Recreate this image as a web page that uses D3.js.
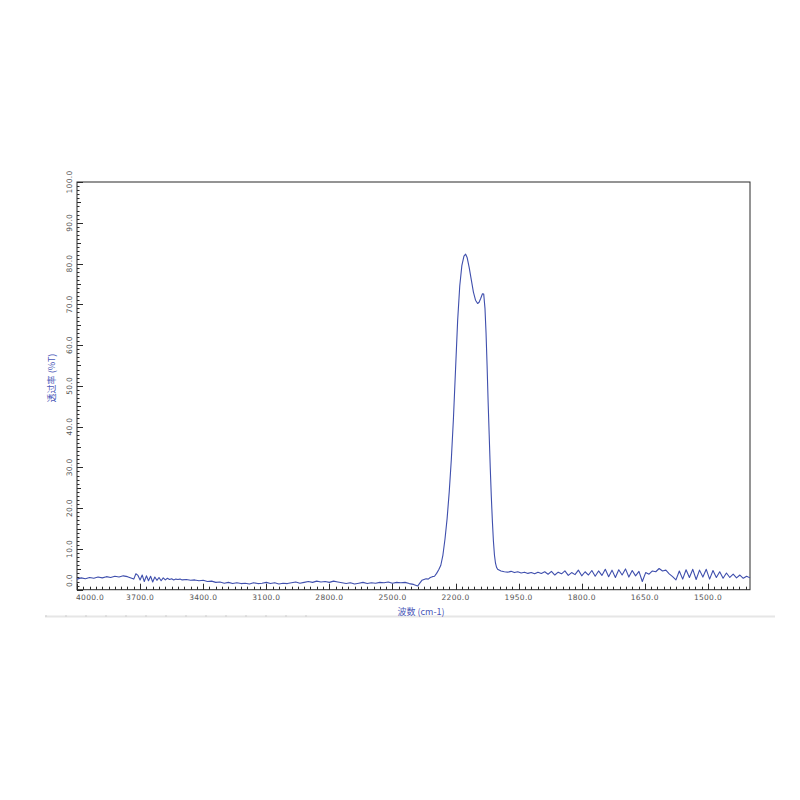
<!DOCTYPE html>
<html>
<head>
<meta charset="utf-8">
<script src="https://cdn.jsdelivr.net/npm/d3@7/dist/d3.min.js"></script>
<style>
  html, body { margin: 0; padding: 0; background: #ffffff; }
  svg { display: block; }
</style>
</head>
<body>
<svg id="chart" width="800" height="800"></svg>
<script>
// ---- Data (wavenumber in cm-1, transmittance in %T) ----
const wavenumbers = [
  4000,3980,3960,3940,3920,3900,3880,3860,3840,3820,3800,3780,3760,
  3740,3730,3720,3710,3700,3690,3680,3670,3660,3650,3640,3630,3620,3610,3600,3590,3580,3570,3560,3550,3540,3530,3520,3510,3500,
  3480,3460,3440,3420,3400,3380,3360,3340,3320,3300,3280,3260,3240,3220,3200,3180,3160,3140,3120,3100,3080,3060,3040,3020,3000,
  2980,2960,2940,2920,2900,2880,2860,2840,2820,2800,2780,2760,2740,2720,2700,2680,2660,2640,2620,2600,2580,2560,2540,2520,2500,2480,
  2460,2440,2420,2400,2380,2370,2360,2350,2340,2330,2320,2310,2300,2290,2280,2270,2260,2250,2240,2230,2220,2210,2200,2190,2180,2170,
  2160,2152,2145,2135,2125,2115,2105,2095,2088,2080,2072,2066,2060,2055,2050,2045,2040,2035,2030,2025,2020,2015,2010,2005,2000,
  1992,1984,1976,1968,1960,1952,1944,1936,1928,1920,1912,1904,1896,1888,1880,1872,1864,1856,1848,1840,1832,1824,1816,1808,1800,
  1792,1784,1776,1768,1760,1752,1744,1736,1728,1720,1712,1704,1696,1688,1680,1672,1664,1656,1648,1640,1632,1624,1616,1608,1600,
  1592,1584,1576,1568,1560,1552,1544,1536,1528,1520,1512,1504,1496,1488,1480,1472,1464,1456,1448,1440,1432,1424,1416,1408,1400
];
const transmittance = [
  2.6,2.9,2.7,3.0,2.8,3.1,2.9,3.2,3.0,3.3,3.1,3.4,3.2,
  2.8,2.6,3.9,3.5,2.4,3.6,2.0,3.4,2.2,3.3,1.9,3.1,2.3,3.0,2.2,2.9,2.4,2.8,2.5,2.7,2.4,2.6,2.5,2.6,2.4,
  2.5,2.3,2.4,2.2,2.3,2.0,2.1,1.8,1.9,1.6,1.8,1.5,1.7,1.5,1.6,1.4,1.7,1.5,1.6,1.8,1.5,1.7,1.4,1.6,1.5,
  1.7,1.9,1.6,1.8,2.0,1.8,2.1,1.9,2.0,1.8,2.1,1.9,1.7,1.5,1.7,1.4,1.6,1.8,1.5,1.7,1.6,1.8,1.7,1.9,1.6,1.8,
  1.7,1.8,1.5,1.3,0.9,1.6,2.3,2.5,2.7,2.6,3.0,3.2,3.3,4.0,4.9,6.0,8.5,12.5,17.5,24,32,42,54,66,74.5,79.5,
  81.8,82.3,81.5,79,76,73,71,70.2,70.5,71.5,72.6,72.5,69,63,55,46,38,30,23,17,12,8.5,6.5,5.5,5.0,
  4.6,4.4,4.3,4.5,4.2,4.4,4.1,4.3,4.0,4.2,3.9,4.3,4.0,4.4,3.8,4.5,3.6,4.3,3.9,4.6,3.5,4.2,3.7,4.8,3.4,
  4.4,3.6,4.7,3.3,4.6,3.5,5.0,3.2,4.8,3.0,4.9,3.6,5.1,3.1,4.7,3.4,4.5,2.0,4.2,3.8,4.6,4.4,5.2,4.6,4.8,
  3.9,3.2,2.4,4.6,2.6,4.9,3.0,5.0,2.5,4.8,3.1,5.0,2.6,4.7,3.0,4.4,2.8,4.1,3.0,3.8,2.9,3.6,2.8,3.3,2.9
];
const xTickValues = [4000, 3700, 3400, 3100, 2800, 2500, 2200, 1950, 1800, 1650, 1500];
const yTickValues = [0, 10, 20, 30, 40, 50, 60, 70, 80, 90, 100];
const xTitle = "波数 (cm-1)";
const yTitle = "透过率 (%T)";

// ---- Layout ----
const svg = d3.select("#chart");
const plotLeft = 77, plotRight = 750, plotTop = 182, plotBottom = 589.7;

// FTIR-style piecewise scale (scale change at 2000 cm-1)
const x = d3.scaleLinear().domain([4000, 2000, 1400]).range([plotLeft, 497.6, plotRight]);
const y = d3.scaleLinear().domain([0, 100]).range([plotBottom, plotTop]);

const axisColor = "#2a2a2a";
const labelColor = "#555";
const titleColor = "#4a57b8";

// light screenshot rule under chart
svg.append("line").attr("x1", 45).attr("x2", 775).attr("y1", 616.5).attr("y2", 616.5)
  .attr("stroke", "#e6e6e6").attr("stroke-width", 2);
svg.append("line").attr("x1", 45).attr("x2", 310).attr("y1", 616).attr("y2", 616)
  .attr("stroke", "#cfcfcf").attr("stroke-width", 1).attr("stroke-dasharray", "2,18");

// frame
svg.append("rect").attr("x", plotLeft).attr("y", plotTop)
  .attr("width", plotRight - plotLeft).attr("height", plotBottom - plotTop)
  .attr("fill", "none").attr("stroke", axisColor).attr("stroke-width", 1);

// y minor ticks (inward)
const yMinor = d3.range(0, 101, 1);
svg.append("g").selectAll("line").data(yMinor).join("line")
  .attr("x1", plotLeft).attr("x2", d => plotLeft + (d % 10 === 0 ? 6 : (d % 5 === 0 ? 4 : 2.5)))
  .attr("y1", d => Math.round(y(d)) + 0.5).attr("y2", d => Math.round(y(d)) + 0.5)
  .attr("stroke", axisColor).attr("stroke-width", 1);

// x minor ticks (inward)
const xMinor = d3.range(4000, 1999, -30).concat(d3.range(1995, 1399, -15));
svg.append("g").selectAll("line").data(xMinor).join("line")
  .attr("x1", d => Math.round(x(d)) + 0.5).attr("x2", d => Math.round(x(d)) + 0.5)
  .attr("y1", plotBottom).attr("y2", plotBottom - 3)
  .attr("stroke", axisColor).attr("stroke-width", 1);
svg.append("g").selectAll("line").data(xTickValues).join("line")
  .attr("x1", d => Math.round(x(d)) + 0.5).attr("x2", d => Math.round(x(d)) + 0.5)
  .attr("y1", plotBottom).attr("y2", plotBottom - 6)
  .attr("stroke", axisColor).attr("stroke-width", 1);

// x tick labels
svg.append("g").selectAll("text").data(xTickValues).join("text")
  .attr("x", (d, i) => i === 0 ? plotLeft - 1 : x(d))
  .attr("y", 599.5)
  .attr("text-anchor", (d, i) => i === 0 ? "start" : "middle")
  .attr("font-family", "DejaVu Sans, sans-serif").attr("font-size", 7.5)
  .attr("fill", labelColor).attr("letter-spacing", 0.3)
  .text(d => d3.format(".1f")(d));

// y tick labels (rotated)
svg.append("g").selectAll("text").data(yTickValues).join("text")
  .attr("transform", d => `translate(71.5,${d === 0 ? y(d) - 9 : y(d)}) rotate(-90)`)
  .attr("text-anchor", "middle")
  .attr("font-family", "DejaVu Sans, sans-serif").attr("font-size", 7.5)
  .attr("fill", labelColor).attr("letter-spacing", 0.3)
  .text(d => d3.format(".1f")(d));

// axis titles
svg.append("text")
  .attr("transform", "translate(55,378) rotate(-90)")
  .attr("text-anchor", "middle")
  .attr("font-family", "Noto Sans CJK SC, sans-serif").attr("font-size", 9)
  .attr("fill", titleColor).text(yTitle);
svg.append("text")
  .attr("x", 421).attr("y", 614.5)
  .attr("text-anchor", "middle")
  .attr("font-family", "Noto Sans CJK SC, sans-serif").attr("font-size", 9)
  .attr("fill", titleColor).text(xTitle);

// spectrum line
const pts = wavenumbers.map((w, i) => [w, transmittance[i]]);
const line = d3.line().x(d => x(d[0])).y(d => y(d[1])).curve(d3.curveLinear);
svg.append("path").datum(pts)
  .attr("d", line)
  .attr("fill", "none").attr("stroke", "#3f4fad").attr("stroke-width", 1.1)
  .attr("stroke-linejoin", "round");
</script>
</body>
</html>
